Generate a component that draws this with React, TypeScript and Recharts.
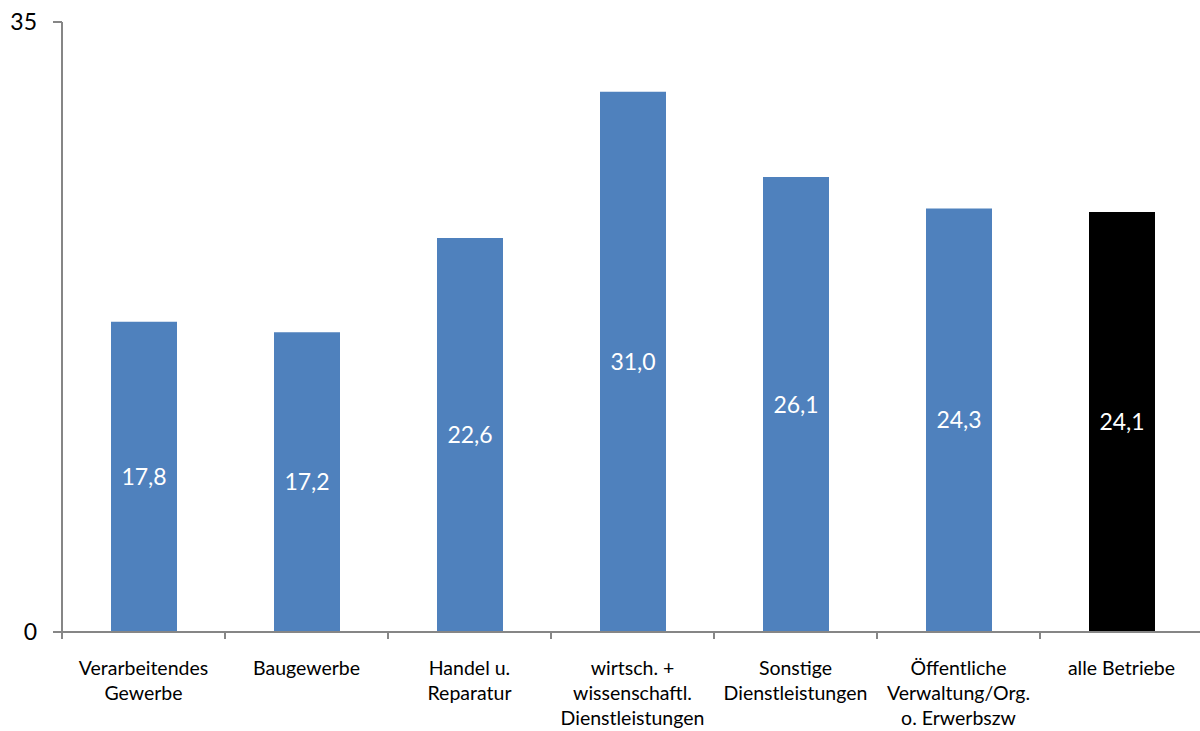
import React from 'react';
import { BarChart, Bar, XAxis, YAxis, Cell, LabelList } from 'recharts';

const categories = [
  'Verarbeitendes\nGewerbe',
  'Baugewerbe',
  'Handel u.\nReparatur',
  'wirtsch. +\nwissenschaftl.\nDienstleistungen',
  'Sonstige\nDienstleistungen',
  'Öffentliche\nVerwaltung/Org.\no. Erwerbszw',
  'alle Betriebe',
];
const values = [17.8, 17.2, 22.6, 31.0, 26.1, 24.3, 24.1];
const yTicks = [0, 35];

const BLUE = '#4F81BD';
const TOTAL = '#000000';
const AXIS = '#868686';
const FONT = 'Lato, "Liberation Sans", sans-serif';

const data = categories.map((name, i) => ({ name, value: values[i] }));

const CHART_W = 1210;
const CHART_H = 731;
const LEFT = 62;
const RIGHT = 7;
const BAND = (CHART_W - LEFT - RIGHT) / categories.length;

const fmt = (v: number) => v.toFixed(1).replace('.', ',');

// category labels split on \n, with the tick mark drawn at the band's left edge
const CategoryTick = ({ x, y, payload }: any) => {
  const lines = String(payload.value).split('\n');
  const left = x - BAND / 2;
  return (
    <g>
      <line x1={left} y1={y} x2={left} y2={y + 7} stroke={AXIS} strokeWidth={2} />
      <text textAnchor="middle" fill="#000" fontSize={19.5} fontFamily={FONT}>
        {lines.map((l, i) => (
          <tspan key={i} x={x} y={y + 43 + i * 25}>
            {l}
          </tspan>
        ))}
      </text>
    </g>
  );
};

const App = () => {
  return (
    <div
      style={{
        position: 'absolute',
        left: 0,
        top: 0,
        width: 1200,
        height: 731,
        overflow: 'hidden',
        background: '#fff',
      }}
    >
      <BarChart
        width={CHART_W}
        height={CHART_H}
        data={data}
        margin={{ top: 22, right: RIGHT, bottom: 0, left: 0 }}
      >
        <XAxis
          dataKey="name"
          height={99}
          interval={0}
          tickSize={0}
          tickMargin={0}
          tickLine={false}
          axisLine={{ stroke: AXIS, strokeWidth: 2 }}
          tick={<CategoryTick />}
        />
        <YAxis
          width={LEFT}
          domain={[0, 35]}
          ticks={yTicks}
          tickSize={9}
          tickMargin={16}
          axisLine={{ stroke: AXIS, strokeWidth: 2 }}
          tickLine={{ stroke: AXIS, strokeWidth: 2 }}
          tick={{ fill: '#000', fontSize: 23, fontFamily: FONT }}
        />
        <Bar dataKey="value" barSize={66} isAnimationActive={false}>
          {data.map((d, i) => (
            <Cell key={`cell-${i}`} fill={i === data.length - 1 ? TOTAL : BLUE} />
          ))}
          <LabelList
            dataKey="value"
            position="center"
            formatter={(v: any) => fmt(Number(v))}
            fill="#fff"
            fontSize={23}
            fontFamily={FONT}
          />
        </Bar>
      </BarChart>
    </div>
  );
};

export default App;
